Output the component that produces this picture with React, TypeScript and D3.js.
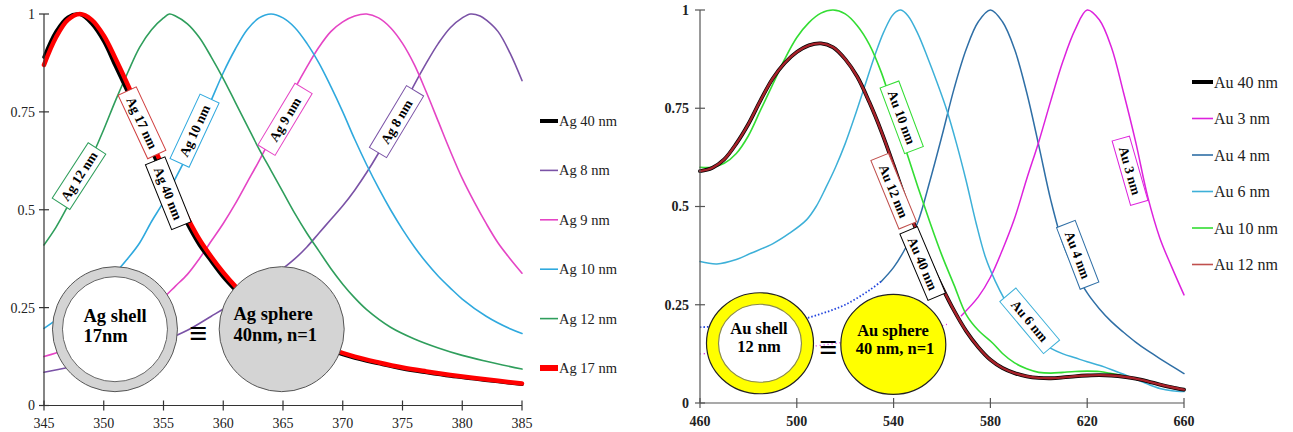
import React from 'react';
import * as d3 from 'd3';

// ---------------- Left panel (Ag) data ----------------
const agXTicks = [345, 350, 355, 360, 365, 370, 375, 380, 385];
const yTicks = [0, 0.25, 0.5, 0.75, 1];
const yTickLabels = ['0', '0.25', '0.5', '0.75', '1'];

const ag17X = [345, 346, 347, 348, 349, 350, 351, 352, 353, 354, 355, 356, 357, 358, 359, 360, 361, 362, 363, 365, 367, 369, 371, 373, 375, 377, 379, 381, 383, 385];
const ag17Y = [0.87, 0.94, 0.985, 1, 0.985, 0.945, 0.885, 0.82, 0.75, 0.675, 0.605, 0.54, 0.48, 0.425, 0.38, 0.34, 0.305, 0.275, 0.248, 0.205, 0.172, 0.145, 0.125, 0.11, 0.097, 0.087, 0.078, 0.07, 0.063, 0.056];
const ag40Y = [0.89, 0.955, 0.992, 0.999, 0.975, 0.93, 0.865, 0.8, 0.728, 0.652, 0.585, 0.52, 0.463, 0.41, 0.368, 0.328, 0.295, 0.266, 0.24, 0.198, 0.167, 0.141, 0.121, 0.107, 0.094, 0.084, 0.075, 0.068, 0.061, 0.054];

const ag12X = [345, 346, 347, 348, 349, 350, 351, 352, 353, 354, 355, 355.5, 356, 357, 358, 359, 360, 361, 362, 363, 364, 365, 366, 367, 368, 369, 370, 371, 372, 374, 376, 378, 380, 382, 385];
const ag12Y = [0.41, 0.455, 0.51, 0.57, 0.635, 0.705, 0.78, 0.85, 0.915, 0.96, 0.99, 1, 0.995, 0.975, 0.94, 0.89, 0.835, 0.775, 0.715, 0.655, 0.6, 0.545, 0.49, 0.44, 0.395, 0.35, 0.31, 0.275, 0.245, 0.2, 0.17, 0.147, 0.128, 0.113, 0.093];

const ag10X = [345, 347, 349, 351, 352, 353, 354, 355, 356, 357, 358, 359, 360, 361, 362, 363, 364, 365, 366, 367, 368, 369, 370, 371, 372, 373, 374, 375, 376, 377, 378, 379, 380, 382, 384, 385];
const ag10Y = [0.197, 0.24, 0.285, 0.34, 0.375, 0.415, 0.47, 0.52, 0.58, 0.64, 0.71, 0.78, 0.85, 0.91, 0.96, 0.99, 1, 0.99, 0.965, 0.925, 0.875, 0.815, 0.75, 0.68, 0.615, 0.555, 0.5, 0.45, 0.405, 0.365, 0.33, 0.3, 0.272, 0.228, 0.196, 0.184];

const ag9X = [345, 346, 348, 350, 352, 354, 355, 356, 357, 358, 359, 360, 361, 362, 363, 364, 365, 366, 367, 368, 369, 370, 371, 372, 373, 374, 375, 376, 377, 378, 379, 380, 381, 382, 383, 384, 385];
const ag9Y = [0.125, 0.134, 0.155, 0.18, 0.21, 0.25, 0.275, 0.305, 0.335, 0.375, 0.42, 0.465, 0.515, 0.57, 0.625, 0.685, 0.75, 0.81, 0.865, 0.915, 0.955, 0.98, 0.995, 1, 0.99, 0.965, 0.925, 0.87, 0.8, 0.725, 0.65, 0.58, 0.52, 0.465, 0.415, 0.375, 0.338];

const ag8X = [345, 347, 349, 351, 353, 355, 357, 359, 361, 363, 365, 366, 367, 368, 369, 370, 371, 372, 373, 374, 375, 376, 377, 378, 379, 380, 380.7, 381.5, 382, 383, 384, 385];
const ag8Y = [0.085, 0.097, 0.11, 0.125, 0.143, 0.165, 0.192, 0.228, 0.265, 0.305, 0.35, 0.375, 0.405, 0.44, 0.475, 0.51, 0.55, 0.595, 0.645, 0.7, 0.76, 0.82, 0.875, 0.925, 0.965, 0.99, 1, 0.995, 0.985, 0.955, 0.9, 0.83];

// ---------------- Right panel (Au) data ----------------
const auXTicks = [460, 500, 540, 580, 620, 660];

const au12X = [460, 465, 470, 475, 480, 485, 490, 495, 500, 505, 510, 515, 520, 525, 530, 535, 540, 545, 550, 555, 560, 565, 570, 575, 580, 585, 590, 595, 600, 605, 610, 615, 620, 625, 630, 636, 640, 645, 650, 655, 660];
const au12Y = [0.59, 0.598, 0.62, 0.66, 0.71, 0.77, 0.825, 0.865, 0.893, 0.91, 0.915, 0.905, 0.875, 0.83, 0.765, 0.69, 0.605, 0.515, 0.43, 0.36, 0.295, 0.235, 0.183, 0.142, 0.11, 0.089, 0.076, 0.068, 0.064, 0.063, 0.065, 0.068, 0.07, 0.071, 0.07, 0.066, 0.062, 0.055, 0.047, 0.04, 0.034];
const au40Y = [0.59, 0.598, 0.62, 0.66, 0.71, 0.77, 0.825, 0.865, 0.893, 0.91, 0.915, 0.905, 0.875, 0.83, 0.765, 0.69, 0.605, 0.515, 0.43, 0.36, 0.295, 0.235, 0.183, 0.142, 0.11, 0.089, 0.076, 0.068, 0.064, 0.063, 0.065, 0.068, 0.07, 0.071, 0.07, 0.066, 0.062, 0.055, 0.047, 0.04, 0.034];

const au10X = [460, 465, 470, 475, 480, 485, 490, 495, 500, 505, 510, 515, 520, 525, 530, 535, 540, 545, 550, 555, 560, 565, 570, 575, 581, 585, 590, 595, 600, 605, 610, 615, 620, 625, 630, 636, 640, 645, 650, 655, 660];
const au10Y = [0.6, 0.6, 0.61, 0.635, 0.68, 0.745, 0.81, 0.875, 0.93, 0.968, 0.992, 1, 0.99, 0.96, 0.912, 0.84, 0.745, 0.645, 0.55, 0.46, 0.375, 0.3, 0.225, 0.185, 0.152, 0.126, 0.102, 0.087, 0.078, 0.076, 0.078, 0.08, 0.081, 0.08, 0.075, 0.068, 0.062, 0.055, 0.047, 0.04, 0.034];

const au6X = [460, 467, 475, 481, 490, 497, 504, 508, 512, 516, 520, 524, 528, 532, 536, 540, 543, 546, 550, 554, 558, 562, 566, 570, 574, 578, 582, 586, 590, 595, 600, 605, 610, 615, 620, 627, 632, 636, 640, 645, 650, 655, 660];
const au6Y = [0.36, 0.354, 0.365, 0.381, 0.405, 0.432, 0.466, 0.5, 0.548, 0.6, 0.66, 0.73, 0.805, 0.88, 0.945, 0.99, 1, 0.985, 0.94, 0.88, 0.815, 0.745, 0.66, 0.565, 0.46, 0.37, 0.31, 0.262, 0.222, 0.186, 0.16, 0.139, 0.125, 0.115, 0.105, 0.092, 0.08, 0.071, 0.061, 0.048, 0.037, 0.031, 0.029];

const au4X = [460, 470, 480, 490, 500, 510, 520, 530, 535, 540, 545, 550, 555, 560, 565, 570, 575, 580, 585, 590, 595, 600, 605, 610, 615, 620, 625, 630, 635, 640, 645, 650, 655, 660];
const au4Y = [0.193, 0.195, 0.198, 0.203, 0.21, 0.227, 0.25, 0.287, 0.31, 0.345, 0.395, 0.46, 0.565, 0.68, 0.8, 0.9, 0.97, 1, 0.97, 0.9, 0.79, 0.655, 0.515, 0.405, 0.335, 0.28, 0.24, 0.207, 0.18, 0.155, 0.133, 0.113, 0.094, 0.075];

const au3X = [460, 480, 500, 520, 540, 555, 562, 568, 575, 580, 585, 590, 595, 600, 605, 610, 615, 620, 625, 630, 635, 640, 645, 650, 655, 660];
const au3Y = [0.125, 0.13, 0.14, 0.155, 0.175, 0.19, 0.2, 0.222, 0.27, 0.32, 0.39, 0.47, 0.57, 0.665, 0.77, 0.87, 0.95, 1, 0.975, 0.905, 0.79, 0.665, 0.525, 0.42, 0.345, 0.275];

const SERIF = "'Liberation Serif','Times New Roman',serif";

type Series = { name: string; xs: number[]; ys: number[]; color: string; width: number; dashUntil?: number };

const agSeries: Series[] = [
  { name: 'Ag 8 nm', xs: ag8X, ys: ag8Y, color: '#7a52a6', width: 1.6 },
  { name: 'Ag 9 nm', xs: ag9X, ys: ag9Y, color: '#e545c5', width: 1.6 },
  { name: 'Ag 10 nm', xs: ag10X, ys: ag10Y, color: '#2fa9de', width: 1.6 },
  { name: 'Ag 12 nm', xs: ag12X, ys: ag12Y, color: '#2f9e5c', width: 1.6 },
  { name: 'Ag 40 nm', xs: ag17X, ys: ag40Y, color: '#000000', width: 3.5 },
  { name: 'Ag 17 nm', xs: ag17X, ys: ag17Y, color: '#ff0000', width: 4.5 },
];
const agLegend = ['Ag 40 nm', 'Ag 8 nm', 'Ag 9 nm', 'Ag 10 nm', 'Ag 12 nm', 'Ag 17 nm'];

const auSeries: Series[] = [
  { name: 'Au 4 nm', xs: au4X, ys: au4Y, color: '#2f6fa6', width: 1.5, dashUntil: 535 },
  { name: 'Au 3 nm', xs: au3X, ys: au3Y, color: '#dd22dd', width: 1.5, dashUntil: 565 },
  { name: 'Au 6 nm', xs: au6X, ys: au6Y, color: '#3db0d8', width: 1.5 },
  { name: 'Au 10 nm', xs: au10X, ys: au10Y, color: '#33dd33', width: 1.6 },
  { name: 'Au 40 nm', xs: au12X, ys: au40Y, color: '#000000', width: 3.8 },
  { name: 'Au 12 nm', xs: au12X, ys: au12Y, color: '#a8222a', width: 2.4 },
];
const auLegend = ['Au 40 nm', 'Au 3 nm', 'Au 4 nm', 'Au 6 nm', 'Au 10 nm', 'Au 12 nm'];
const auLegendColors: Record<string, string> = { 'Au 12 nm': '#c0504d' };

// labels on curves: [text, x (nm), y (value), angle, length, width, stroke]
const agLabels: [string, number, number, number, number, number, string][] = [
  ['Ag 12 nm', 347.93, 0.586, -57, 66, 21, '#2f9e5c'],
  ['Ag 17 nm', 353.2, 0.722, 65, 70, 20, '#d04040'],
  ['Ag 40 nm', 355.4, 0.542, 68, 70, 21, '#000000'],
  ['Ag 10 nm', 357.6, 0.702, -65, 71, 21, '#2fa9de'],
  ['Ag 9 nm', 365.17, 0.731, -59, 72, 20, '#e545c5'],
  ['Ag 8 nm', 374.5, 0.725, -59, 72, 20, '#7a52a6'],
];
const auLabels: [string, number, number, number, number, number, string][] = [
  ['Au 10 nm', 543.35, 0.727, 69.5, 70, 20, '#33dd33'],
  ['Au 12 nm', 540.04, 0.539, 67.7, 74, 19, '#c0504d'],
  ['Au 40 nm', 552.02, 0.355, 67, 72, 19, '#000000'],
  ['Au 6 nm', 596.24, 0.209, 50, 68, 21, '#3db0d8'],
  ['Au 4 nm', 616.07, 0.377, 69, 66, 20, '#2f6fa6'],
  ['Au 3 nm', 637.69, 0.591, 74, 67, 18, '#dd22dd'],
];

const xL = d3.scaleLinear().domain([345, 385]).range([44, 522]);
const yL = d3.scaleLinear().domain([0, 1]).range([405.5, 14]);
const xR = d3.scaleLinear().domain([460, 660]).range([700, 1184]);
const yR = d3.scaleLinear().domain([0, 1]).range([403, 10]);

function path(xs: number[], ys: number[], sx: any, sy: any) {
  const pts = xs.map((x, i) => [x, ys[i]] as [number, number]);
  return d3.line<[number, number]>().x(d => sx(d[0])).y(d => sy(d[1])).curve(d3.curveCatmullRom.alpha(0.5))(pts) || '';
}

function SeriesPaths({ list, sx, sy }: { list: Series[]; sx: any; sy: any }) {
  return (
    <g fill="none" strokeLinejoin="round" strokeLinecap="round">
      {list.map(s => {
        if (s.dashUntil !== undefined) {
          const a = s.xs.map((x, i) => i).filter(i => s.xs[i] <= s.dashUntil!);
          const b = s.xs.map((x, i) => i).filter(i => s.xs[i] >= s.dashUntil!);
          const isBlue = s.name === 'Au 4 nm';
          return (
            <g key={s.name}>
              <path d={path(a.map(i => s.xs[i]), a.map(i => s.ys[i]), sx, sy)} stroke={isBlue ? '#2244dd' : s.color} strokeWidth={isBlue ? 1.8 : 1.3} strokeDasharray={isBlue ? '1.5,2' : '1,3'} strokeLinecap="butt" />
              <path d={path(b.map(i => s.xs[i]), b.map(i => s.ys[i]), sx, sy)} stroke={s.color} strokeWidth={s.width} />
            </g>
          );
        }
        return <path key={s.name} d={path(s.xs, s.ys, sx, sy)} stroke={s.color} strokeWidth={s.width} />;
      })}
    </g>
  );
}

function Labels({ list, sx, sy, fontSize }: { list: [string, number, number, number, number, number, string][]; sx: any; sy: any; fontSize: number }) {
  return (
    <g>
      {list.map(([t, x, y, a, L, W, c]) => (
        <g key={t} transform={`translate(${sx(x)},${sy(y)}) rotate(${a})`}>
          <rect x={-L / 2} y={-W / 2} width={L} height={W} fill="#fff" stroke={c} strokeWidth={1} />
          <text x={0} y={0} dy="0.35em" textAnchor="middle" fontFamily={SERIF} fontWeight="bold" fontSize={fontSize} fill="#000">{t}</text>
        </g>
      ))}
    </g>
  );
}

export default function App() {
  const serif = SERIF;
  const agColor = (n: string) => agSeries.find(s => s.name === n)!.color;
  const auColor = (n: string) => auLegendColors[n] || auSeries.find(s => s.name === n)!.color;

  const agShell = [xL(350.94), yL(0.195)];
  const agSphere = [xL(364.89), yL(0.195)];
  const auShell = [xR(484.79), yR(0.152)];
  const auSphere = [xR(539.88), yR(0.149)];

  return (
    <svg width={1293} height={432} style={{ position: 'absolute', left: 0, top: 0, background: '#fff' }}>
      <rect x={0} y={0} width={1293} height={432} fill="#fff" />
      {/* ---------- LEFT PANEL ---------- */}
      <SeriesPaths list={agSeries} sx={xL} sy={yL} />
      <circle cx={agShell[0]} cy={agShell[1]} r={62.5} fill="#d4d4d4" stroke="#555" strokeWidth={1} />
      <circle cx={agShell[0]} cy={agShell[1]} r={52.5} fill="#fff" stroke="#666" strokeWidth={1} />
      <text x={83.5} y={321.5} fontFamily={serif} fontWeight="bold" fontSize={18.5}>Ag shell</text>
      <text x={83.5} y={341.5} fontFamily={serif} fontWeight="bold" fontSize={18.5}>17nm</text>
      <text x={198} y={333} dy="0.35em" textAnchor="middle" fontFamily={serif} fontWeight="bold" fontSize={32}>≡</text>
      <circle cx={agSphere[0]} cy={agSphere[1]} r={62.5} fill="#d4d4d4" stroke="#555" strokeWidth={1} />
      <text x={233.5} y={320} fontFamily={serif} fontWeight="bold" fontSize={18.5}>Ag sphere</text>
      <text x={233.5} y={340.5} fontFamily={serif} fontWeight="bold" fontSize={18.5}>40nm, n=1</text>
      <Labels list={agLabels} sx={xL} sy={yL} fontSize={13.5} />
      <g stroke="#333" strokeWidth={1.2}>
        <line x1={xL(345)} x2={xL(345)} y1={yL(0)} y2={yL(1)} />
        <line x1={xL(345)} x2={xL(385)} y1={yL(0)} y2={yL(0)} />
        {yTicks.map(t => <line key={t} x1={xL(345) - 5} x2={xL(345) + 5} y1={yL(t)} y2={yL(t)} />)}
        {agXTicks.map(t => <line key={t} x1={xL(t)} x2={xL(t)} y1={yL(0) - 5} y2={yL(0) + 5} />)}
      </g>
      <g fontFamily={serif} fontSize={14} fill="#222">
        {yTicks.map((t, i) => <text key={t} x={35} y={yL(t)} dy="0.35em" textAnchor="end">{yTickLabels[i]}</text>)}
        {agXTicks.map(t => <text key={t} x={xL(t)} y={428} textAnchor="middle">{t}</text>)}
      </g>
      <g fontFamily={serif} fontSize={14.5} fill="#222">
        {agLegend.map((n, i) => {
          const y = 121 + i * 49.4;
          const w = n === 'Ag 40 nm' ? 4 : n === 'Ag 17 nm' ? 6 : 1.6;
          return (
            <g key={n}>
              <line x1={540} x2={558} y1={y} y2={y} stroke={agColor(n)} strokeWidth={w} />
              <text x={559} y={y} dy="0.35em">{n}</text>
            </g>
          );
        })}
      </g>

      {/* ---------- RIGHT PANEL ---------- */}
      <SeriesPaths list={auSeries} sx={xR} sy={yR} />
      <ellipse cx={auShell[0]} cy={auShell[1]} rx={53.5} ry={50.5} fill="#ffff00" stroke="#222" strokeWidth={1.2} />
      <ellipse cx={auShell[0]} cy={auShell[1]} rx={41.5} ry={39} fill="#fff" stroke="#8a8a50" strokeWidth={1.2} />
      <text x={759} y={334} textAnchor="middle" fontFamily={serif} fontWeight="bold" fontSize={16.5}>Au shell</text>
      <text x={759} y={352} textAnchor="middle" fontFamily={serif} fontWeight="bold" fontSize={16.5}>12 nm</text>
      <text x={828} y={347} dy="0.35em" textAnchor="middle" fontFamily={serif} fontWeight="bold" fontSize={32}>≡</text>
      <ellipse cx={auSphere[0]} cy={auSphere[1]} rx={52.5} ry={50} fill="#ffff00" stroke="#222" strokeWidth={1.2} />
      <text x={893} y={336} textAnchor="middle" fontFamily={serif} fontWeight="bold" fontSize={16.5}>Au sphere</text>
      <text x={895} y={353.5} textAnchor="middle" fontFamily={serif} fontWeight="bold" fontSize={16.5}>40 nm, n=1</text>
      <Labels list={auLabels} sx={xR} sy={yR} fontSize={13.5} />
      <g stroke="#555" strokeWidth={1.2}>
        <line x1={xR(460)} x2={xR(460)} y1={yR(0)} y2={yR(1)} />
        <line x1={xR(460)} x2={xR(660)} y1={yR(0)} y2={yR(0)} />
        {yTicks.map(t => <line key={t} x1={xR(460) - 5} x2={xR(460) + 5} y1={yR(t)} y2={yR(t)} />)}
        {auXTicks.map(t => <line key={t} x1={xR(t)} x2={xR(t)} y1={yR(0) - 5} y2={yR(0) + 5} />)}
      </g>
      <g fontFamily={serif} fontSize={14} fontWeight="bold" fill="#222">
        {yTicks.map((t, i) => <text key={t} x={689} y={yR(t)} dy="0.35em" textAnchor="end">{yTickLabels[i]}</text>)}
        {auXTicks.map(t => <text key={t} x={xR(t)} y={426} textAnchor="middle">{t}</text>)}
      </g>
      <g fontFamily={serif} fontSize={16} fill="#222">
        {auLegend.map((n, i) => {
          const y = 82 + i * 36.5;
          const w = n === 'Au 40 nm' ? 4 : 1.6;
          return (
            <g key={n}>
              <line x1={1192} x2={1213} y1={y} y2={y} stroke={auColor(n)} strokeWidth={w} />
              <text x={1214} y={y} dy="0.35em">{n}</text>
            </g>
          );
        })}
      </g>
    </svg>
  );
}
